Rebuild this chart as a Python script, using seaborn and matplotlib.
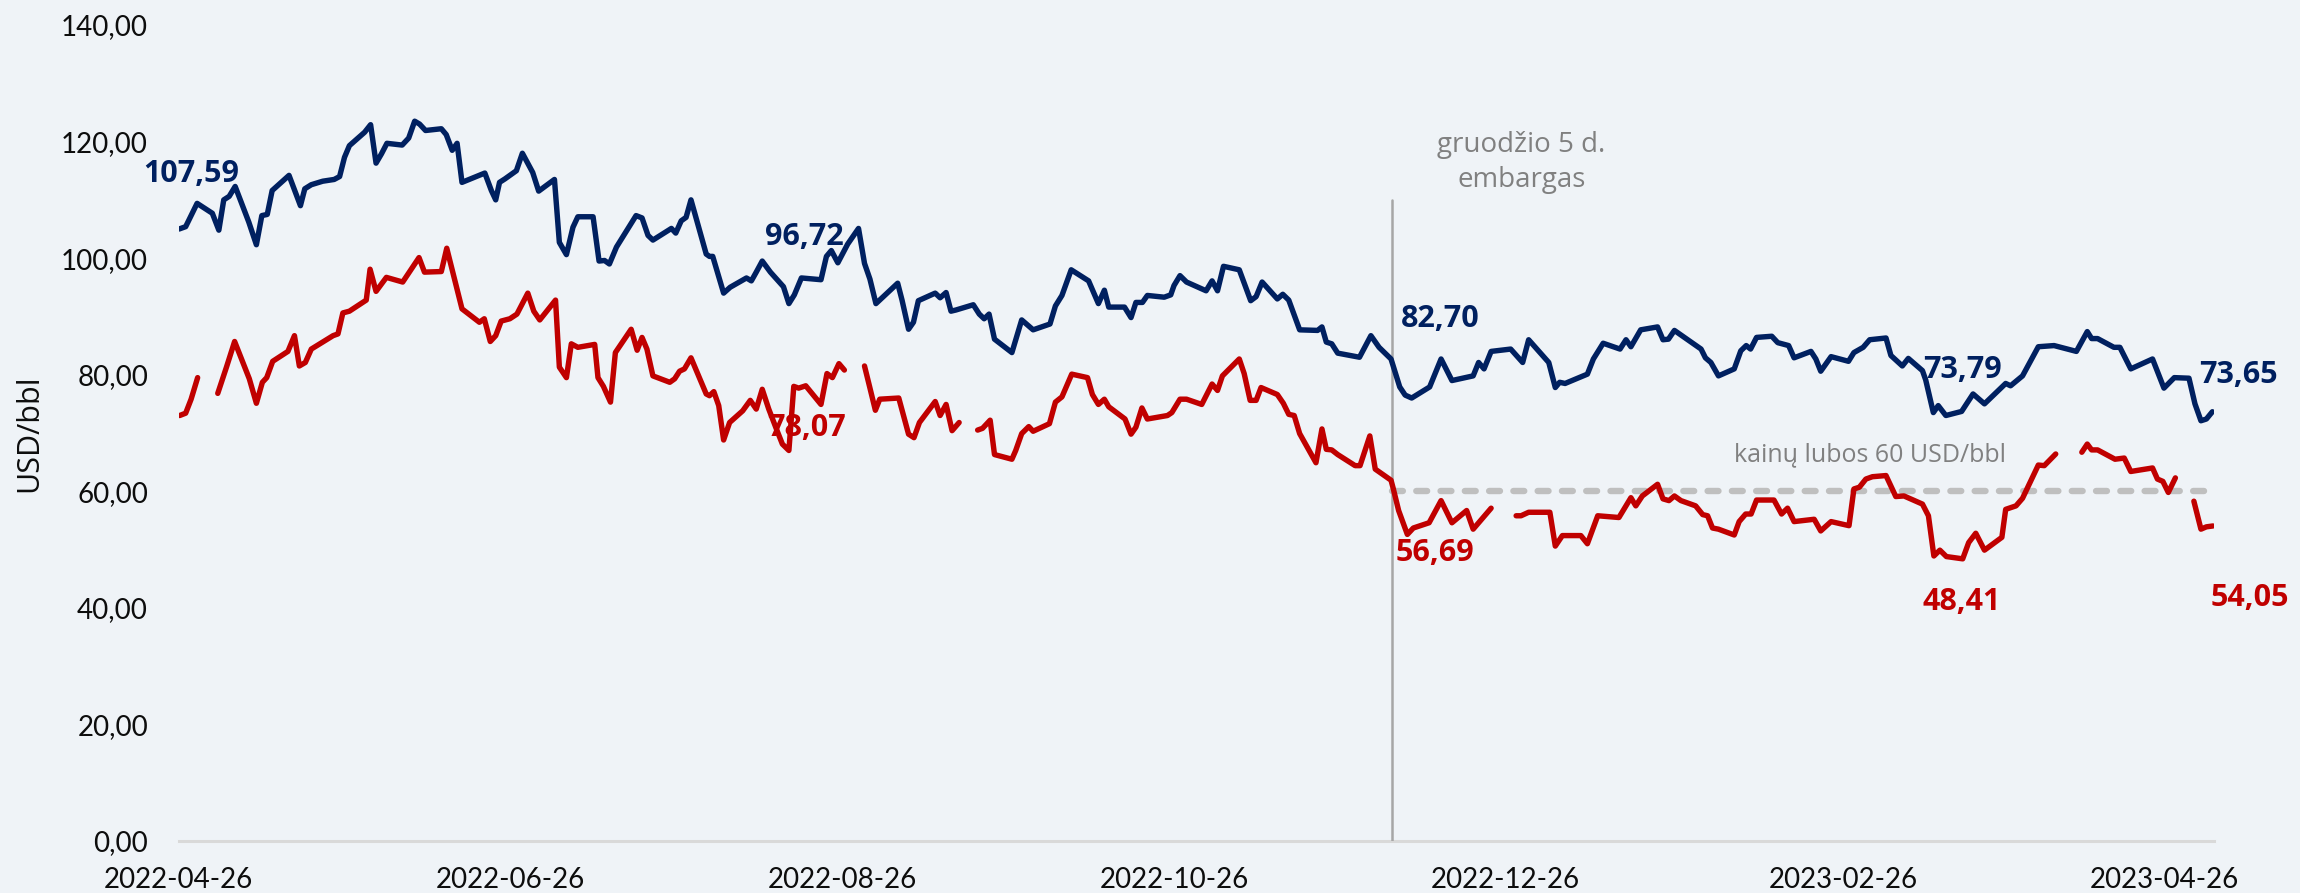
import numpy as np
import pandas as pd
import matplotlib
matplotlib.use("Agg")
import matplotlib.pyplot as plt
import seaborn as sns

# ---------------- data ----------------
start_date = "2022-04-26"
end_day = 374.2
embargo_date = "2022-12-05"
price_cap = 60

brent_day = [0.1, 1.3, 3.4, 6.2, 7.4, 8.3, 9.3, 10.4, 12.9, 14.3, 15.3, 16.3, 17.2, 20.3, 22.4, 23.2, 24.4,
             26.5, 28.6, 29.6, 30.5, 31.4, 34.2, 35.3, 36.3, 37.3, 38.3, 41.1, 42.3, 43.4, 44.3, 45.4, 48.3,
             49.2, 50.3, 51.2, 52.1, 56.3, 57.5, 58.3, 59.0, 60.0, 62.1, 63.2, 65.1, 66.2, 69.1, 70.0, 71.3,
             72.5, 73.4, 76.2, 77.3, 78.3, 79.2, 80.5, 84.1, 85.2, 86.3, 87.2, 90.6, 91.4, 92.4, 93.3, 94.2,
             97.0, 97.6, 98.2, 100.2, 101.4, 104.4, 105.3, 106.2, 107.3, 108.8, 111.2, 112.2, 113.2, 114.5,
             118.1, 119.1, 120.0, 121.2, 123.0, 125.0, 126.1, 127.1, 128.2, 132.2, 133.0, 134.2, 135.1, 136.0,
             139.1, 140.0, 141.1, 142.0, 142.9, 146.1, 147.2, 148.1, 149.0, 150.0, 153.2, 155.0, 157.1, 160.2,
             161.2, 162.4, 164.1, 167.3, 169.1, 170.2, 171.0, 173.9, 175.1, 176.0, 177.2, 178.1, 181.2, 182.4,
             183.0, 184.1, 185.3, 188.9, 190.0, 191.0, 192.1, 195.0, 197.1, 198.1, 199.2, 202.0, 203.0, 204.1,
             206.1, 209.4, 210.2, 211.0, 212.0, 213.1, 217.1, 219.2, 220.7, 222.9, 224.5, 225.5, 226.7, 230.0,
             232.1, 234.1, 238.0, 239.0, 240.0, 241.3, 244.9, 247.1, 248.2, 251.9, 253.1, 253.9, 254.9, 259.0,
             260.1, 261.9, 265.0, 266.1, 267.0, 268.8, 271.9, 272.9, 273.9, 275.0, 279.9, 280.7, 281.7, 283.1,
             286.0, 287.2, 288.2, 289.0, 290.1, 292.9, 294.0, 296.0, 297.0, 300.1, 301.0, 301.9, 303.8, 307.0,
             308.0, 309.7, 310.9, 313.9, 314.8, 316.9, 318.0, 320.6, 321.2, 322.6, 323.5, 324.9, 327.8, 329.9,
             332.0, 335.9, 336.8, 339.0, 341.9, 344.8, 348.9, 350.9, 351.7, 352.8, 355.8, 356.9, 358.9, 362.9,
             365.0, 366.9, 369.6, 370.7, 371.8, 372.8, 373.9]
brent_usd = [105.0, 105.4, 109.4, 107.7, 104.8, 110.0, 110.6, 112.3, 106.2, 102.3, 107.3, 107.5, 111.6, 114.2,
             109.0, 111.9, 112.6, 113.2, 113.5, 114.0, 117.3, 119.3, 121.6, 122.9, 116.3, 117.9, 119.7, 119.4,
             120.6, 123.5, 123.0, 121.9, 122.2, 121.2, 118.5, 119.7, 113.0, 114.6, 111.6, 110.0, 113.0, 113.6,
             115.0, 118.0, 114.7, 111.5, 113.5, 102.7, 100.6, 105.3, 107.1, 107.1, 99.5, 99.6, 99.0, 101.9,
             107.3, 106.9, 103.9, 103.1, 105.1, 104.3, 106.4, 107.0, 110.0, 100.7, 100.3, 100.3, 94.0, 95.0,
             96.6, 96.1, 97.6, 99.5, 97.6, 95.1, 92.2, 93.7, 96.6, 96.3, 100.3, 101.3, 99.2, 102.4, 105.1,
             99.1, 96.4, 92.2, 95.7, 92.8, 87.8, 89.0, 92.7, 94.0, 93.2, 94.1, 90.9, 91.1, 92.0, 90.4, 89.6,
             90.4, 86.1, 83.8, 89.4, 87.7, 88.7, 91.8, 93.6, 98.0, 96.1, 92.2, 94.5, 91.6, 91.6, 89.8, 92.4,
             92.4, 93.6, 93.3, 93.7, 95.3, 97.0, 95.9, 94.4, 96.1, 94.4, 98.6, 98.0, 92.7, 93.4, 95.9, 93.0,
             93.8, 92.8, 87.7, 87.6, 88.2, 85.6, 85.3, 83.7, 83.0, 86.7, 84.7, 82.7, 77.9, 76.5, 76.0, 77.9,
             82.7, 79.0, 79.8, 82.1, 81.0, 84.0, 84.4, 82.1, 86.0, 82.1, 77.8, 78.7, 78.5, 80.1, 82.7, 85.4,
             84.4, 86.0, 84.8, 87.7, 88.2, 86.0, 86.1, 87.6, 84.4, 82.9, 82.1, 79.8, 81.0, 84.1, 85.0, 84.4,
             86.4, 86.6, 85.5, 85.0, 82.9, 84.0, 82.7, 80.6, 83.1, 82.3, 83.8, 84.7, 86.0, 86.3, 83.3, 81.5,
             82.8, 80.7, 79.1, 73.5, 74.7, 73.0, 73.7, 76.7, 75.0, 78.5, 78.1, 79.8, 84.8, 85.0, 84.0, 87.4,
             86.2, 86.2, 84.7, 84.7, 81.0, 82.7, 77.7, 79.5, 79.4, 75.0, 72.1, 72.4, 73.65]

NA = np.nan
urals_day = [0.2, 1.3, 2.3, 3.5, NA,
             7.2, 8.8, 10.3, 13.0, 14.3, 15.4, 16.2, 17.3, 20.1, 21.3, 22.2, 23.3, 24.4, 28.4, 29.3, 30.2,
             31.4, 34.5, 35.2, 36.3, 38.2, 41.2, 44.2, 45.2, 48.3, 49.3, 52.1, 55.3, 56.2, 57.3, 58.3, 59.3,
             60.9, 62.2, 64.2, 65.3, 66.4, 69.3, 70.0, 71.3, 72.2, 73.4, 76.5, 77.1, 78.1, 79.4, 80.3, 83.2,
             84.3, 85.2, 86.1, 87.2, 90.3, 91.2, 92.1, 93.0, 94.2, 97.0, 97.6, 98.4, 99.3, 100.2, 101.3,
             103.7, 105.1, 106.2, 107.3, 108.5, 109.9, 111.0, 112.2, 113.1, 114.0, 115.3, 118.1, 119.2,
             120.2, 121.4, 122.4, NA,
             126.1, 127.0, 128.1, 128.9, 132.4, 134.2, 135.2, 136.2, 139.1, 140.0, 141.1, 142.2, 143.5, NA,
             146.9, 147.8, 149.2, 150.0, 153.2, 153.9, 155.0, 156.3, 157.1, 160.1, 161.2, 162.4, 164.2,
             167.1, 168.0, 169.1, 170.2, 171.0, 174.0, 175.1, 176.0, 177.1, 178.1, 181.8, 182.6, 184.1,
             185.3, 188.1, 190.0, 191.0, 191.9, 195.0, 195.9, 197.0, 198.1, 199.0, 202.0, 203.1, 204.1,
             205.1, 206.1, 209.1, 210.2, 211.0, 212.0, 213.1, 216.3, 217.2, 219.0, 220.0, 222.9, 223.3,
             224.3, 225.9, 227.0, 229.9, 232.1, 234.1, 236.8, 238.0, 241.3, NA,
             245.9, 246.8, 248.2, 252.1, 253.1, 254.4, 257.8, 259.0, 260.9, 264.8, 267.0, 267.9, 269.1,
             271.9, 272.9, 274.0, 275.0, 276.2, 278.9, 280.2, 281.1, 282.0, 283.1, 286.0, 286.9, 288.1,
             289.1, 290.1, 293.3, 294.7, 295.8, 297.0, 300.7, 301.9, 303.8, 307.1, 308.0, 309.0, 310.2,
             311.4, 313.9, 315.7, 317.2, 320.6, 321.7, 322.7, 323.8, 325.0, 328.0, 329.1, 330.4, 332.0,
             335.2, 335.9, 337.8, 339.0, 341.9, 343.0, 345.1, NA,
             349.9, 350.9, 351.7, 352.8, 356.0, 357.7, 358.9, 362.9, 363.8, 364.8, 365.8, 367.1, NA,
             370.5, 371.8, 372.8, 374.0]
urals_usd = [73.0, 73.4, 75.8, 79.5, NA,
             76.8, 81.3, 85.7, 79.3, 75.1, 78.7, 79.5, 82.3, 84.0, 86.7, 81.5, 82.1, 84.4, 86.7, 87.0, 90.6,
             90.9, 92.8, 98.1, 94.3, 96.7, 95.9, 100.1, 97.6, 97.7, 101.7, 91.3, 89.0, 89.6, 85.7, 86.7, 89.2,
             89.6, 90.4, 94.0, 90.9, 89.4, 92.8, 81.3, 79.5, 85.3, 84.7, 85.2, 79.5, 78.0, 75.3, 83.8, 87.8,
             84.2, 86.4, 84.4, 79.8, 78.7, 79.3, 80.6, 81.0, 82.9, 76.7, 76.4, 77.1, 74.7, 68.8, 71.8,
             73.8, 75.6, 74.1, 77.5, 74.1, 70.7, 68.1, 67.0, 78.0, 77.7, 78.1, 74.9, 80.2,
             79.5, 81.9, 80.8, NA,
             81.5, 78.1, 73.9, 75.8, 76.0, 69.8, 69.2, 71.8, 75.4, 73.0, 74.9, 70.4, 71.8, NA,
             70.5, 70.8, 72.2, 66.3, 65.5, 67.0, 69.9, 71.1, 70.3, 71.6, 75.3, 76.2, 80.1,
             79.5, 76.6, 74.9, 75.8, 74.5, 72.4, 69.8, 71.0, 74.3, 72.4, 73.0, 73.5, 75.8,
             75.8, 74.9, 78.4, 77.3, 79.8, 82.7, 80.2, 75.6, 75.6, 77.8, 76.6, 75.1, 73.2,
             73.0, 69.9, 64.9, 70.7, 67.2, 67.1, 66.3, 64.4, 64.4, 69.5, 63.8, 61.9, 60.5,
             56.69, 52.6, 53.7, 54.6, 58.4, 54.6, 56.7, 53.5, 57.1, NA,
             55.8, 55.8, 56.4, 56.4, 50.6, 52.4, 52.4, 51.0, 55.8, 55.5, 58.9, 57.5, 59.2,
             61.2, 58.7, 58.4, 59.2, 58.4, 57.5, 56.0, 55.8, 53.7, 53.5, 52.5, 54.8, 56.1,
             56.1, 58.5, 58.5, 56.1, 57.1, 54.8, 55.2, 53.2, 54.8, 54.1, 60.4, 60.7, 62.1,
             62.5, 62.7, 59.1, 59.2, 57.8, 55.8, 48.9, 49.9, 48.8, 48.41, 51.2, 52.8, 49.9,
             52.1, 56.9, 57.5, 58.8, 64.5, 64.4, 66.4, NA,
             66.7, 68.1, 67.1, 67.1, 65.5, 65.7, 63.4, 64.0, 62.1, 61.7, 59.8, 62.3, NA,
             58.3, 53.5, 53.9, 54.05]

xtick_labels = ["2022-04-26", "2022-06-26", "2022-08-26", "2022-10-26",
                "2022-12-26", "2023-02-26", "2023-04-26"]
ytick_values = [0, 20, 40, 60, 80, 100, 120, 140]
y_title = "USD/bbl"
embargo_text = "gruodžio 5 d.\nembargas"
cap_text = "kainų lubos 60 USD/bbl"
brent_labels = ["107,59", "96,72", "82,70", "73,79", "73,65"]
urals_labels = ["78,07", "56,69", "48,41", "54,05"]

# ---------------- styling ----------------
NAVY = "#002060"
RED = "#C00000"
BG = "#EFF3F7"
GREY_TXT = "#808080"

sns.set_style("white")
plt.rcParams["font.family"] = ["Open Sans", "DejaVu Sans"]

base = pd.Timestamp(start_date)
def to_dates(days):
    return base + pd.to_timedelta(np.asarray(days, dtype=float), unit="D")

brent = pd.DataFrame({"date": to_dates(brent_day), "price": brent_usd})
u_vals = np.asarray(urals_usd, dtype=float)
urals = pd.DataFrame({"date": to_dates(urals_day), "price": u_vals,
                      "seg": np.cumsum(np.isnan(u_vals))}).dropna()

fig = plt.figure(figsize=(23, 8.93), dpi=100, facecolor=BG)
ax = fig.add_axes([178.6 / 2300, 52 / 893, (2214 - 178.6) / 2300, 816 / 893])
ax.set_facecolor(BG)

emb = pd.Timestamp(embargo_date)
end = base + pd.Timedelta(days=end_day)

# price cap dashed line
ax.plot([emb, end], [price_cap, price_cap], color="#BFBFBF", linewidth=4.6,
        ls=(0, (1.7, 2.1)), dash_capstyle="round", zorder=1.5)
# embargo vertical line
ax.plot([emb, emb], [0, 110], color="#A6A6A6", linewidth=1.8, zorder=1.5)

sns.lineplot(data=brent, x="date", y="price", color=NAVY, linewidth=3.9, estimator=None,
             sort=False, ax=ax, legend=False, solid_joinstyle="round",
             solid_capstyle="round", zorder=3)
sns.lineplot(data=urals, x="date", y="price", units="seg", color=RED, linewidth=3.9,
             estimator=None, sort=False, ax=ax, legend=False,
             solid_joinstyle="round", solid_capstyle="round", zorder=3)

ax.set_xlim(base, end)
ax.set_ylim(0, 140)

for s in ["top", "right", "left"]:
    ax.spines[s].set_visible(False)
ax.spines["bottom"].set_color("#D9D9D9")
ax.spines["bottom"].set_linewidth(2.2)
ax.spines["bottom"].set_zorder(1)

ax.set_xticks(pd.to_datetime(xtick_labels))
ax.set_xticklabels(xtick_labels, family=["Lato", "DejaVu Sans"], fontsize=20, color="#0D0D0D")
ax.set_yticks(ytick_values)
ax.set_yticklabels([f"{v:.2f}".replace(".", ",") for v in ytick_values],
                   family=["Lato", "DejaVu Sans"], fontsize=20, color="#0D0D0D")
ax.tick_params(axis="x", length=0, pad=19)
ax.tick_params(axis="y", length=0, pad=22)
ax.set_xlabel("")
ax.set_ylabel("")
ax.grid(False)

fig.text(29 / 2300, 1 - 433 / 893, y_title, rotation=90, ha="center", va="center",
         fontsize=22, color="#0D0D0D")

def day(d):
    return base + pd.Timedelta(days=d)

# value labels
b_pos = [(2.3, 114.4), (115.1, 103.6), (231.9, 89.6), (328.0, 80.8), (378.7, 79.9)]
u_pos = [(115.4, 70.9), (231.0, 49.4), (327.8, 41.0), (380.7, 41.7)]
for txt, (d, v) in zip(brent_labels, b_pos):
    ax.text(day(d), v, txt, color=NAVY, fontsize=22, fontweight="bold",
            ha="center", va="center", zorder=2, clip_on=False)
for txt, (d, v) in zip(urals_labels, u_pos):
    ax.text(day(d), v, txt, color=RED, fontsize=22, fontweight="bold",
            ha="center", va="center", zorder=2, clip_on=False)

ax.text(day(246.9), 116.4, embargo_text, color=GREY_TXT, fontsize=20, ha="center",
        va="center", multialignment="center", linespacing=1.35)
ax.text(day(310.9), 66.2, cap_text, color=GREY_TXT, fontsize=18, ha="center", va="center")

fig.savefig("out.png", dpi=100, facecolor=BG)
